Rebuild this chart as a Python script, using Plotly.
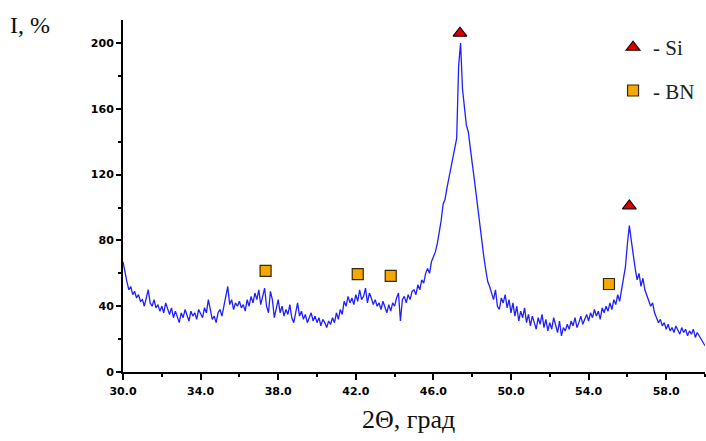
import numpy as np
import plotly.graph_objects as go

# Scan grid: 2-theta from 30.0 to 60.0 degrees, 0.1 degree step
theta_start = 30.0
theta_step = 0.1

# Intensity (%), one row per degree (30.x, 31.x, ...), last value at 60.0
intensity = [
    67, 60, 55, 50, 52, 47, 49, 45, 47, 43,      # 30
    44, 40, 46, 50, 42, 40, 44, 39, 41, 37,      # 31
    40, 36, 42, 38, 35, 39, 33, 37, 34, 30,      # 32
    36, 33, 38, 35, 31, 37, 34, 36, 32, 38,      # 33
    35, 33, 39, 36, 44, 37, 32, 34, 30, 36,      # 34
    38, 34, 40, 45, 52, 41, 44, 38, 42, 40,      # 35
    43, 39, 41, 37, 44, 40, 46, 42, 48, 44,      # 36
    50, 41, 46, 51, 40, 36, 49, 44, 33, 38,      # 37
    44, 36, 40, 34, 38, 35, 41, 33, 30, 36,      # 38
    42, 34, 37, 32, 35, 30, 33, 36, 31, 34,      # 39
    30, 33, 28, 32, 30, 27, 31, 29, 33, 30,      # 40
    36, 32, 38, 35, 43, 40, 46, 42, 45, 41,      # 41
    47, 43, 50, 44, 46, 51, 42, 48, 45, 41,      # 42
    44, 40, 42, 38, 43, 39, 36, 41, 37, 42,      # 43
    40, 45, 48, 31, 44, 46, 42, 47, 44, 49,      # 44
    50, 47, 53, 50, 56, 54, 60, 63, 60, 67,      # 45
    70, 73, 78, 84, 92, 102, 105, 112, 118, 125, # 46
    130, 135, 142, 186, 200, 172, 160, 150, 146, 135,  # 47
    127, 118, 108, 100, 88, 78, 70, 62, 55, 52,  # 48
    48, 44, 50, 40, 38, 45, 42, 47, 39, 44,      # 49
    36, 42, 34, 40, 31, 37, 33, 39, 30, 35,      # 50
    28, 34, 30, 26, 33, 29, 35, 27, 32, 25,      # 51
    30, 26, 33, 28, 24, 31, 22, 27, 25, 29,      # 52
    26, 31, 28, 33, 27, 30, 34, 29, 32, 35,      # 53
    31, 36, 33, 38, 34, 37, 32, 39, 36, 40,      # 54
    37, 42, 38, 44, 41, 47, 43, 50, 55, 64,      # 55
    78, 89, 80, 70, 63, 56, 60, 52, 57, 50,      # 56
    47, 44, 40, 42, 36, 33, 30, 32, 28, 30,      # 57
    26, 29, 25, 27, 24, 28, 25, 23, 27, 24,      # 58
    26, 22, 25, 23, 26, 21, 24, 22, 20, 18,      # 59
    16,                                          # 60
]
two_theta = np.round(theta_start + theta_step * np.arange(len(intensity)), 1)

# Phase markers
si_theta = [47.37, 56.1]
si_int = [206, 101]
bn_theta = [37.35, 42.1, 43.8, 55.05]
bn_int = [61.5, 59.5, 58.5, 53.5]

x_ticks = [30, 34, 38, 42, 46, 50, 54, 58]
y_ticks = [0, 40, 80, 120, 160, 200]

fig = go.Figure()
fig.add_trace(go.Scatter(
    x=two_theta, y=intensity, mode="lines",
    line=dict(color="#1f1fff", width=1.3),
    showlegend=False, hoverinfo="skip",
))
fig.add_trace(go.Scatter(
    x=si_theta, y=si_int, mode="markers", name="- Si", legendgroup="si",
    marker=dict(symbol="triangle-up", size=12, color="#d80000",
                line=dict(color="#2a0000", width=1.2)),
))
fig.add_trace(go.Scatter(
    x=bn_theta, y=bn_int, mode="markers", name="- BN", legendgroup="bn",
    marker=dict(symbol="square", size=11, color="#f6a800",
                line=dict(color="#3a2800", width=1.2)),
))

tick_font = dict(family="DejaVu Sans", size=11, color="black", weight="bold")

fig.update_layout(
    width=706, height=441,
    margin=dict(l=123, r=1, t=20, b=69),
    paper_bgcolor="white", plot_bgcolor="white",
    xaxis=dict(
        range=[30, 60], tickvals=x_ticks,
        ticktext=[f"{v:.1f}" for v in x_ticks],
        ticks="outside", ticklen=6, tickwidth=1.5, tickcolor="black",
        minor=dict(ticks="outside", ticklen=3, tickwidth=1.5, dtick=2, tick0=30, tickcolor="black"),
        showline=True, linecolor="black", linewidth=2,
        showgrid=False, zeroline=False, tickfont=tick_font,
        ticklabelstandoff=2,
    ),
    yaxis=dict(
        range=[0, 214], tickvals=y_ticks,
        ticks="outside", ticklen=5, tickwidth=1.5, tickcolor="black",
        minor=dict(ticks="outside", ticklen=3, tickwidth=1.5, dtick=20, tick0=0, tickcolor="black"),
        showline=True, linecolor="black", linewidth=2,
        showgrid=False, zeroline=False, tickfont=tick_font,
    ),
    legend=dict(
        x=0.842, y=0.98, xanchor="left", yanchor="top",
        font=dict(family="Liberation Serif", size=21, color="#222"),
        bgcolor="rgba(0,0,0,0)", tracegroupgap=13,
    ),
    annotations=[
        dict(text="I, %", xref="paper", yref="paper", x=-0.198, y=0.986,
             xanchor="left", yanchor="middle", showarrow=False,
             font=dict(family="Liberation Serif", size=24, color="#111")),
        dict(text="2Θ, град", xref="paper", yref="paper", x=0.49, y=-0.136,
             xanchor="center", yanchor="middle", showarrow=False,
             font=dict(family="Liberation Serif", size=26, color="#111")),
    ],
)

fig.write_html(
    "out.html",
    config={"displayModeBar": False},
    post_script="document.body.style.margin='0';document.body.style.overflow='hidden';",
)
